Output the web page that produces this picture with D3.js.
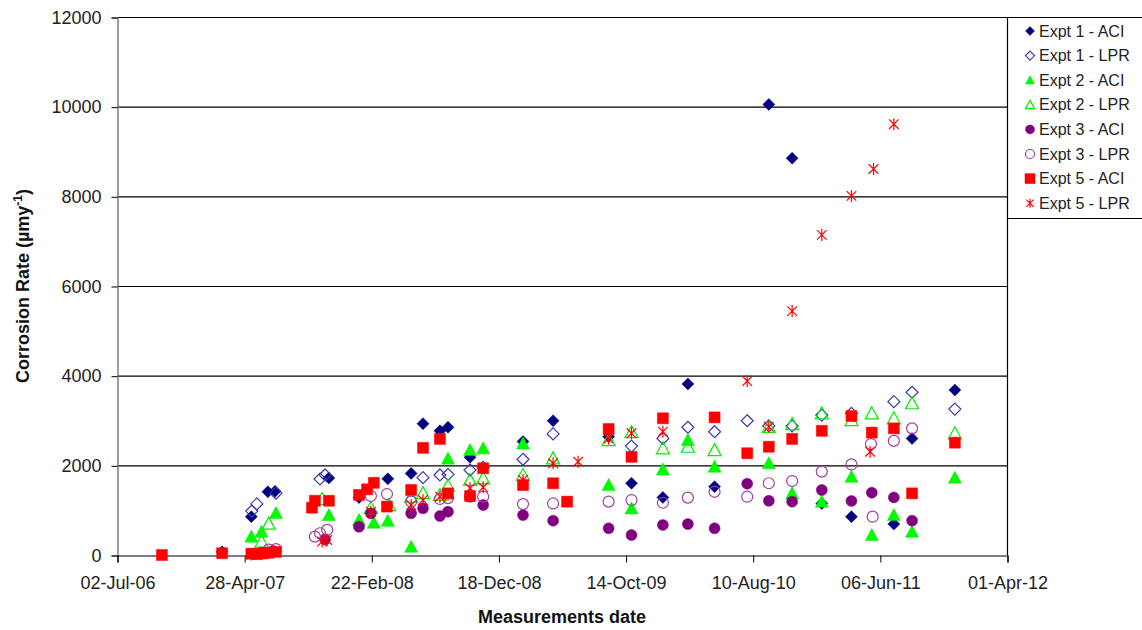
<!DOCTYPE html>
<html>
<head>
<meta charset="utf-8">
<script src="https://cdn.jsdelivr.net/npm/d3@7"></script>
<style>
  html, body { margin: 0; padding: 0; background: #fff; }
  svg { display: block; font-family: "Liberation Sans", Arial, sans-serif; }
</style>
</head>
<body>
<svg id="chart" width="1142" height="630"></svg>
<script>
// ---------- data ----------
const xTickLabels = ["02-Jul-06","28-Apr-07","22-Feb-08","18-Dec-08","14-Oct-09","10-Aug-10","06-Jun-11","01-Apr-12"];
const yTickValues = [0, 2000, 4000, 6000, 8000, 10000, 12000];
const seriesNames = ["Expt 1 - ACI","Expt 1 - LPR","Expt 2 - ACI","Expt 2 - LPR","Expt 3 - ACI","Expt 3 - LPR","Expt 5 - ACI","Expt 5 - LPR"];

const expt1ACI = [
  ["2007-03-07",70],["2007-05-15",855],["2007-06-23",1410],["2007-07-10",1420],["2007-11-14",1720],
  ["2008-01-24",1280],["2008-04-01",1700],["2008-05-26",1820],["2008-06-23",2930],["2008-08-02",2770],
  ["2008-08-21",2850],["2008-10-12",2180],["2009-02-14",2530],["2009-04-26",2995],["2009-09-04",2640],
  ["2009-10-28",1600],["2010-01-10",1285],["2010-03-10",3815],["2010-05-12",1525],["2010-09-17",10050],
  ["2010-11-11",8850],["2011-01-20",1150],["2011-03-31",855],["2011-07-09",690],["2011-08-21",2600],
  ["2011-11-30",3680]
];
const expt1LPR = [
  ["2007-05-16",980],["2007-05-28",1140],["2007-07-12",1380],["2007-10-24",1695],["2007-11-05",1785],
  ["2008-06-23",1725],["2008-08-02",1785],["2008-08-21",1800],["2008-10-12",1895],["2008-11-12",1955],
  ["2009-02-14",2135],["2009-04-26",2700],["2009-10-28",2430],["2010-01-10",2600],["2010-03-10",2850],
  ["2010-05-12",2750],["2010-07-28",2995],["2010-09-17",2880],["2010-11-11",2880],["2011-01-20",3120],
  ["2011-03-31",3160],["2011-07-09",3420],["2011-08-21",3630],["2011-11-30",3255]
];
const expt2ACI = [
  ["2007-05-15",410],["2007-06-08",520],["2007-07-12",935],["2007-11-14",890],["2008-01-24",780],
  ["2008-02-28",720],["2008-04-01",765],["2008-05-26",185],["2008-08-21",2150],["2008-10-12",2340],
  ["2008-11-12",2380],["2009-02-14",2490],["2009-09-04",1560],["2009-10-28",1040],["2010-01-10",1910],
  ["2010-03-10",2565],["2010-05-12",1970],["2010-09-17",2045],["2010-11-11",1375],["2011-01-20",1190],
  ["2011-03-31",1745],["2011-05-18",445],["2011-07-09",890],["2011-08-21",520],["2011-11-30",1725]
];
const expt2LPR = [
  ["2007-06-08",300],["2007-06-25",700],["2007-10-29",1250],["2008-02-21",1050],["2008-04-04",1115],
  ["2008-05-26",1300],["2008-06-23",1380],["2008-08-02",1340],["2008-08-21",1550],["2008-10-12",1675],
  ["2008-11-12",1710],["2009-02-14",1785],["2009-04-26",2155],["2009-09-04",2565],["2009-10-28",2740],
  ["2010-01-10",2380],["2010-03-10",2415],["2010-05-12",2340],["2010-09-17",2860],["2010-11-11",2920],
  ["2011-01-20",3160],["2011-03-31",3010],["2011-05-18",3160],["2011-07-09",3050],["2011-08-21",3385],
  ["2011-11-30",2715]
];
const expt3ACI = [
  ["2007-06-08",50],["2007-07-05",90],["2007-11-05",350],["2008-01-24",630],["2008-02-21",930],
  ["2008-05-26",930],["2008-06-23",1040],["2008-08-02",870],["2008-08-21",965],["2008-11-12",1115],
  ["2009-02-14",890],["2009-04-26",765],["2009-09-04",595],["2009-10-28",445],["2010-01-10",670],
  ["2010-03-10",690],["2010-05-12",595],["2010-07-28",1590],["2010-09-17",1210],["2010-11-11",1190],
  ["2011-01-20",1450],["2011-03-31",1205],["2011-05-18",1390],["2011-07-09",1285],["2011-08-21",765]
];
const expt3LPR = [
  ["2007-06-25",120],["2007-07-12",130],["2007-10-12",410],["2007-10-24",485],["2007-11-10",560],
  ["2008-02-21",1315],["2008-03-30",1360],["2008-05-26",1190],["2008-08-02",1250],["2008-08-21",1270],
  ["2008-10-12",1300],["2008-11-12",1300],["2009-02-14",1135],["2009-04-26",1150],["2009-09-04",1190],
  ["2009-10-28",1225],["2010-01-10",1165],["2010-03-10",1280],["2010-05-12",1410],["2010-07-28",1300],
  ["2010-09-17",1600],["2010-11-11",1650],["2011-01-20",1860],["2011-03-31",2020],["2011-05-16",2475],
  ["2011-05-20",855],["2011-07-09",2545],["2011-08-21",2825]
];
const expt5ACI = [
  ["2006-10-16",0],["2007-03-07",40],["2007-05-15",30],["2007-05-28",20],["2007-06-12",35],
  ["2007-06-25",50],["2007-07-12",70],["2007-10-05",1055],["2007-10-12",1210],["2007-11-14",1210],
  ["2008-01-24",1340],["2008-02-12",1465],["2008-02-28",1610],["2008-03-30",1080],["2008-05-26",1450],
  ["2008-06-23",2390],["2008-08-02",2590],["2008-08-21",1375],["2008-10-12",1315],["2008-11-12",1935],
  ["2009-02-14",1560],["2009-04-26",1600],["2009-05-29",1190],["2009-09-04",2810],["2009-10-28",2190],
  ["2010-01-10",3050],["2010-05-12",3070],["2010-07-28",2270],["2010-09-17",2415],["2010-11-11",2590],
  ["2011-01-20",2770],["2011-03-31",3100],["2011-05-18",2730],["2011-07-09",2825],["2011-08-21",1375],
  ["2011-11-30",2505]
];
const expt5LPR = [
  ["2007-05-15",10],["2007-06-08",20],["2007-10-29",300],["2007-11-10",335],["2008-02-21",965],
  ["2008-05-26",1115],["2008-06-23",1225],["2008-08-02",1300],["2008-08-21",1350],["2008-10-12",1490],
  ["2008-11-12",1510],["2009-02-14",1675],["2009-04-26",2045],["2009-06-24",2080],["2009-09-04",2600],
  ["2009-10-28",2715],["2010-01-10",2750],["2010-07-28",3880],["2010-09-17",2860],["2010-11-11",5440],
  ["2011-01-20",7140],["2011-03-31",8010],["2011-05-14",2305],["2011-05-22",8610],["2011-07-09",9610]
];

// ---------- setup ----------
const parseDate = d3.timeParse("%Y-%m-%d");
const parseTick = d3.timeParse("%d-%b-%y");
const fmtTick = d3.timeFormat("%d-%b-%y");
const tickDates = xTickLabels.map(parseTick);

const svg = d3.select("#chart");
const L = 117, R = 1007, T = 17, B = 555;

const x = d3.scaleTime().domain([tickDates[0], tickDates[tickDates.length - 1]]).range([L, R]);
const y = d3.scaleLinear().domain([0, 12000]).range([B, T]);

// gridlines
svg.append("g").selectAll("line").data(yTickValues.filter(v => v > 0)).join("line")
  .attr("x1", L).attr("x2", R)
  .attr("y1", d => y(d) + 0.5).attr("y2", d => y(d) + 0.5)
  .attr("stroke", "#000").attr("stroke-width", 1.2);

// right border + legend frame
svg.append("line").attr("x1", R + 0.5).attr("x2", R + 0.5).attr("y1", T).attr("y2", B)
  .attr("stroke", "#000").attr("stroke-width", 1.2);

// y axis
const yAxis = svg.append("g").attr("transform", `translate(${L + 0.5},0.5)`)
  .call(d3.axisLeft(y).tickValues(yTickValues).tickSize(6).tickPadding(10).tickFormat(d3.format("d")));
yAxis.select(".domain").attr("stroke", "#808080").attr("stroke-width", 1.5);
yAxis.selectAll(".tick line").attr("stroke", "#000");
yAxis.selectAll("text").attr("font-size", 18).attr("fill", "#222")
  .attr("font-family", "'Liberation Sans', Arial, sans-serif");

// x axis
const xAxis = svg.append("g").attr("transform", `translate(0.5,${B + 0.5})`)
  .call(d3.axisBottom(x).tickValues(tickDates).tickSize(7).tickPadding(14).tickFormat(fmtTick));
xAxis.select(".domain").attr("stroke", "#000").attr("stroke-width", 1.2);
xAxis.selectAll(".tick line").attr("stroke", "#000");
xAxis.selectAll("text").attr("font-size", 18).attr("fill", "#222")
  .attr("font-family", "'Liberation Sans', Arial, sans-serif");

// axis titles
svg.append("text").attr("x", 562).attr("y", 623).attr("text-anchor", "middle")
  .attr("font-size", 18).attr("font-weight", "bold").attr("fill", "#111")
  .text("Measurements date");

const yt = svg.append("text").attr("transform", "translate(29,286) rotate(-90)")
  .attr("text-anchor", "middle").attr("font-size", 18).attr("font-weight", "bold").attr("fill", "#111");
yt.append("tspan").text("Corrosion Rate (µmy");
yt.append("tspan").attr("font-size", 12).attr("dy", -7).text("-1");
yt.append("tspan").attr("dy", 7).text(")");

// ---------- markers ----------
function markerPath(type, s) {
  const h = s / 2;
  switch (type) {
    case "diamond": return `M0,${-h}L${h},0L0,${h}L${-h},0Z`;
    case "triangle": return `M0,${-h}L${h},${h * 0.85}L${-h},${h * 0.85}Z`;
    case "square": return `M${-h},${-h}H${h}V${h}H${-h}Z`;
    case "circle": return `M${h},0A${h},${h} 0 1,1 ${-h},0A${h},${h} 0 1,1 ${h},0Z`;
    case "asterisk": {
      const d = h * 0.8;
      return `M0,${-h}V${h}M${-d},${-d}L${d},${d}M${d},${-d}L${-d},${d}`;
    }
  }
}

const styles = [
  { data: expt1ACI, type: "diamond",  size: 12, fill: "#000080", stroke: "#000080", sw: 0.5 },
  { data: expt1LPR, type: "diamond",  size: 12, fill: "none",    stroke: "#3a3aa8", sw: 1.2 },
  { data: expt2ACI, type: "triangle", size: 13, fill: "#00ff00", stroke: "#00e000", sw: 0.5 },
  { data: expt2LPR, type: "triangle", size: 13, fill: "none",    stroke: "#00ee00", sw: 1.2 },
  { data: expt3ACI, type: "circle",   size: 11, fill: "#800080", stroke: "#800080", sw: 0.5 },
  { data: expt3LPR, type: "circle",   size: 11, fill: "none",    stroke: "#a040a0", sw: 1.2 },
  { data: expt5ACI, type: "square",   size: 11, fill: "#ff0000", stroke: "#ff0000", sw: 0.5 },
  { data: expt5LPR, type: "asterisk", size: 12, fill: "none",    stroke: "#ff0000", sw: 1.2 }
];

styles.forEach((st, i) => {
  svg.append("g").attr("class", "series-" + i)
    .selectAll("path").data(st.data).join("path")
    .attr("transform", d => `translate(${x(parseDate(d[0]))},${y(d[1])})`)
    .attr("d", markerPath(st.type, st.size))
    .attr("fill", st.fill).attr("stroke", st.stroke).attr("stroke-width", st.sw);
});

// ---------- legend ----------
svg.append("line").attr("x1", R).attr("x2", 1142).attr("y1", T + 0.5).attr("y2", T + 0.5)
  .attr("stroke", "#000").attr("stroke-width", 1.2);
svg.append("line").attr("x1", R).attr("x2", 1142).attr("y1", 218.5).attr("y2", 218.5)
  .attr("stroke", "#000").attr("stroke-width", 1.2);

const leg = svg.append("g");
seriesNames.forEach((name, i) => {
  const st = styles[i];
  const cy = 31 + i * 24.6;
  leg.append("path").attr("transform", `translate(1030,${cy})`)
    .attr("d", markerPath(st.type, st.type === "square" ? 10 : 9))
    .attr("fill", st.fill).attr("stroke", st.stroke).attr("stroke-width", st.sw);
  leg.append("text").attr("x", 1039).attr("y", cy + 5.5)
    .attr("font-size", 16).attr("fill", "#222").text(name);
});
</script>
</body>
</html>
